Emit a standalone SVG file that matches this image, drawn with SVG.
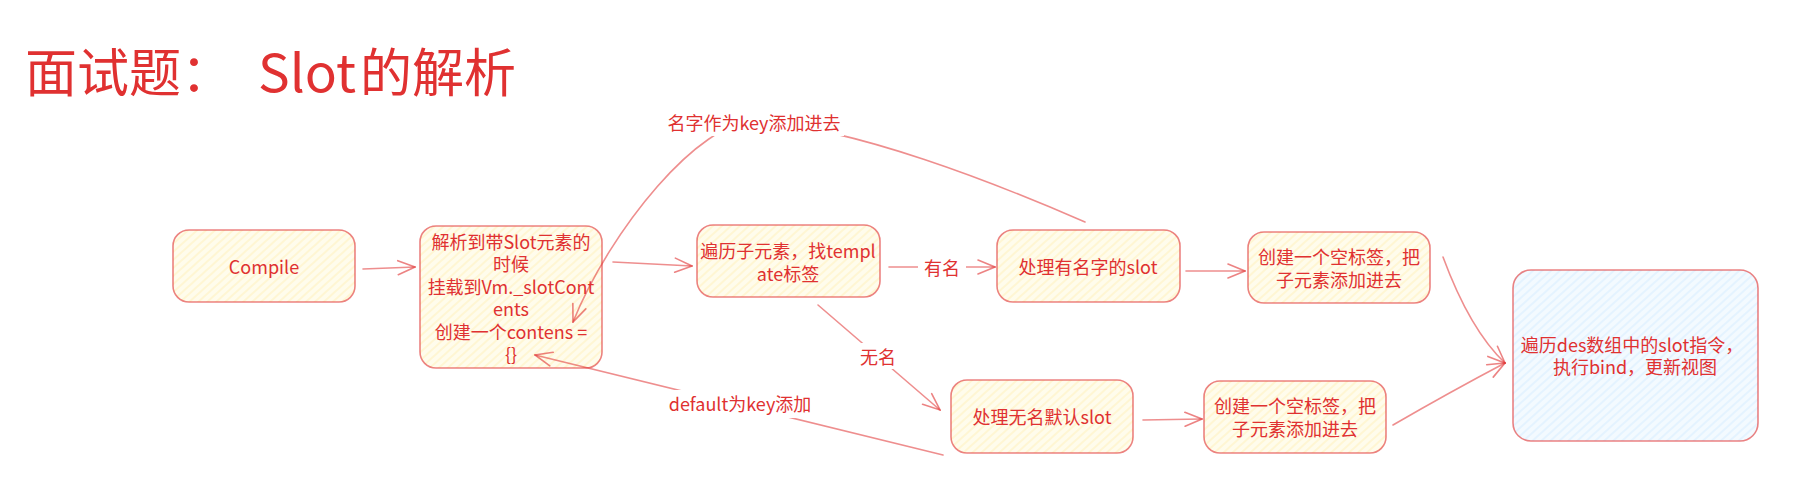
<svg xmlns="http://www.w3.org/2000/svg" width="1802" height="496" viewBox="0 0 1802 496">
<style>
text{font-family:"Noto Sans CJK SC","Liberation Sans",sans-serif;fill:#e03131;dominant-baseline:central;text-anchor:middle}
.t{font-size:18px}
.title{font-size:52px;text-anchor:start}
.box{stroke:#e03131;stroke-opacity:.6;stroke-width:1.6}
.y{fill:url(#hy)}
.b{fill:url(#hb)}
.c{fill:none;stroke:#e03131;stroke-opacity:.55;stroke-width:1.6;stroke-linecap:round}
.lb{fill:#fff}
</style>
<defs>
<pattern id="hy" width="6" height="6" patternUnits="userSpaceOnUse" patternTransform="rotate(-42)">
<rect width="6" height="6" fill="#fffcec"/>
<line x1="0" y1="3" x2="6" y2="3" stroke="#fff3c6" stroke-width="1.3"/>
</pattern>
<pattern id="hb" width="6" height="6" patternUnits="userSpaceOnUse" patternTransform="rotate(-42)">
<rect width="6" height="6" fill="#f3faff"/>
<line x1="0" y1="3" x2="6" y2="3" stroke="#ddf0ff" stroke-width="1.3"/>
</pattern>
<marker id="ah" viewBox="0 0 20 20" refX="19" refY="10" markerWidth="20" markerHeight="20" markerUnits="userSpaceOnUse" orient="auto">
<path d="M2,3 L19,10 L2,17" fill="none" stroke="#e03131" stroke-opacity=".6" stroke-width="1.6" stroke-linecap="round"/>
</marker>
</defs>
<rect width="1802" height="496" fill="#fff"/>

<g id="title">
<text class="title" x="25" y="69">面试题：</text>
<text class="title" x="258" y="69" textLength="98" lengthAdjust="spacingAndGlyphs">Slot</text>
<text class="title" x="360" y="69">的解析</text>
</g>

<g id="compile">
<rect class="box y" x="173" y="230" width="182" height="72" rx="16"/>
<text class="t" x="264" y="266">Compile</text>
</g>

<g id="parse">
<rect class="box y" x="420" y="226" width="182" height="142" rx="16"/>
<text class="t" x="511" y="240.75">解析到带Slot元素的</text>
<text class="t" x="511" y="263.25">时候</text>
<text class="t" x="511" y="285.75">挂载到Vm._slotCont</text>
<text class="t" x="511" y="308.25">ents</text>
<text class="t" x="511" y="330.75">创建一个contens =</text>
<text class="t" x="511" y="353.25">{}</text>
</g>

<g id="traverse">
<rect class="box y" x="697" y="225" width="183" height="72" rx="16"/>
<text class="t" x="788" y="250">遍历子元素，找templ</text>
<text class="t" x="788" y="273">ate标签</text>
</g>

<g id="named">
<rect class="box y" x="997" y="230" width="183" height="72" rx="16"/>
<text class="t" x="1088" y="266">处理有名字的slot</text>
</g>

<g id="create-named">
<rect class="box y" x="1248" y="232" width="182" height="71" rx="16"/>
<text class="t" x="1339" y="255.5">创建一个空标签，把</text>
<text class="t" x="1339" y="278.5">子元素添加进去</text>
</g>

<g id="unnamed">
<rect class="box y" x="951" y="380" width="182" height="73" rx="16"/>
<text class="t" x="1042" y="416">处理无名默认slot</text>
</g>

<g id="create-default">
<rect class="box y" x="1204" y="381" width="182" height="72" rx="16"/>
<text class="t" x="1295" y="404.5">创建一个空标签，把</text>
<text class="t" x="1295" y="427.5">子元素添加进去</text>
</g>

<g id="update">
<rect class="box b" x="1513" y="270" width="245" height="171" rx="18"/>
<text class="t" x="1632" y="343.75">遍历des数组中的slot指令，</text>
<text class="t" x="1635" y="366.25">执行bind，更新视图</text>
</g>

<g id="connectors">
<path class="c" d="M363,269 L415,267" marker-end="url(#ah)"/>
<path class="c" d="M613,262 L692,266" marker-end="url(#ah)"/>
<path class="c" d="M889,267 L995,267" marker-end="url(#ah)"/>
<path class="c" d="M818,305 L940,410" marker-end="url(#ah)"/>
<path class="c" d="M1085,222 C1000,185 850,125 754,122 C700,120 610,230 573,322" marker-end="url(#ah)"/>
<path class="c" d="M943,455 L535,355" marker-end="url(#ah)"/>
<path class="c" d="M1186,271 L1245,271" marker-end="url(#ah)"/>
<path class="c" d="M1143,420 L1202,419" marker-end="url(#ah)"/>
<path class="c" d="M1443,257 Q1470,330 1505,363" marker-end="url(#ah)"/>
<path class="c" d="M1393,425 Q1450,392 1505,363" marker-end="url(#ah)"/>
<rect class="lb" x="664" y="108" width="180" height="28"/>
<text class="t" x="754" y="122">名字作为key添加进去</text>
<rect class="lb" x="918" y="254" width="48" height="26"/>
<text class="t" x="942" y="267">有名</text>
<rect class="lb" x="854" y="343" width="48" height="26"/>
<text class="t" x="878" y="356">无名</text>
<rect class="lb" x="662" y="390" width="156" height="28"/>
<text class="t" x="740" y="403">default为key添加</text>
</g>
</svg>
